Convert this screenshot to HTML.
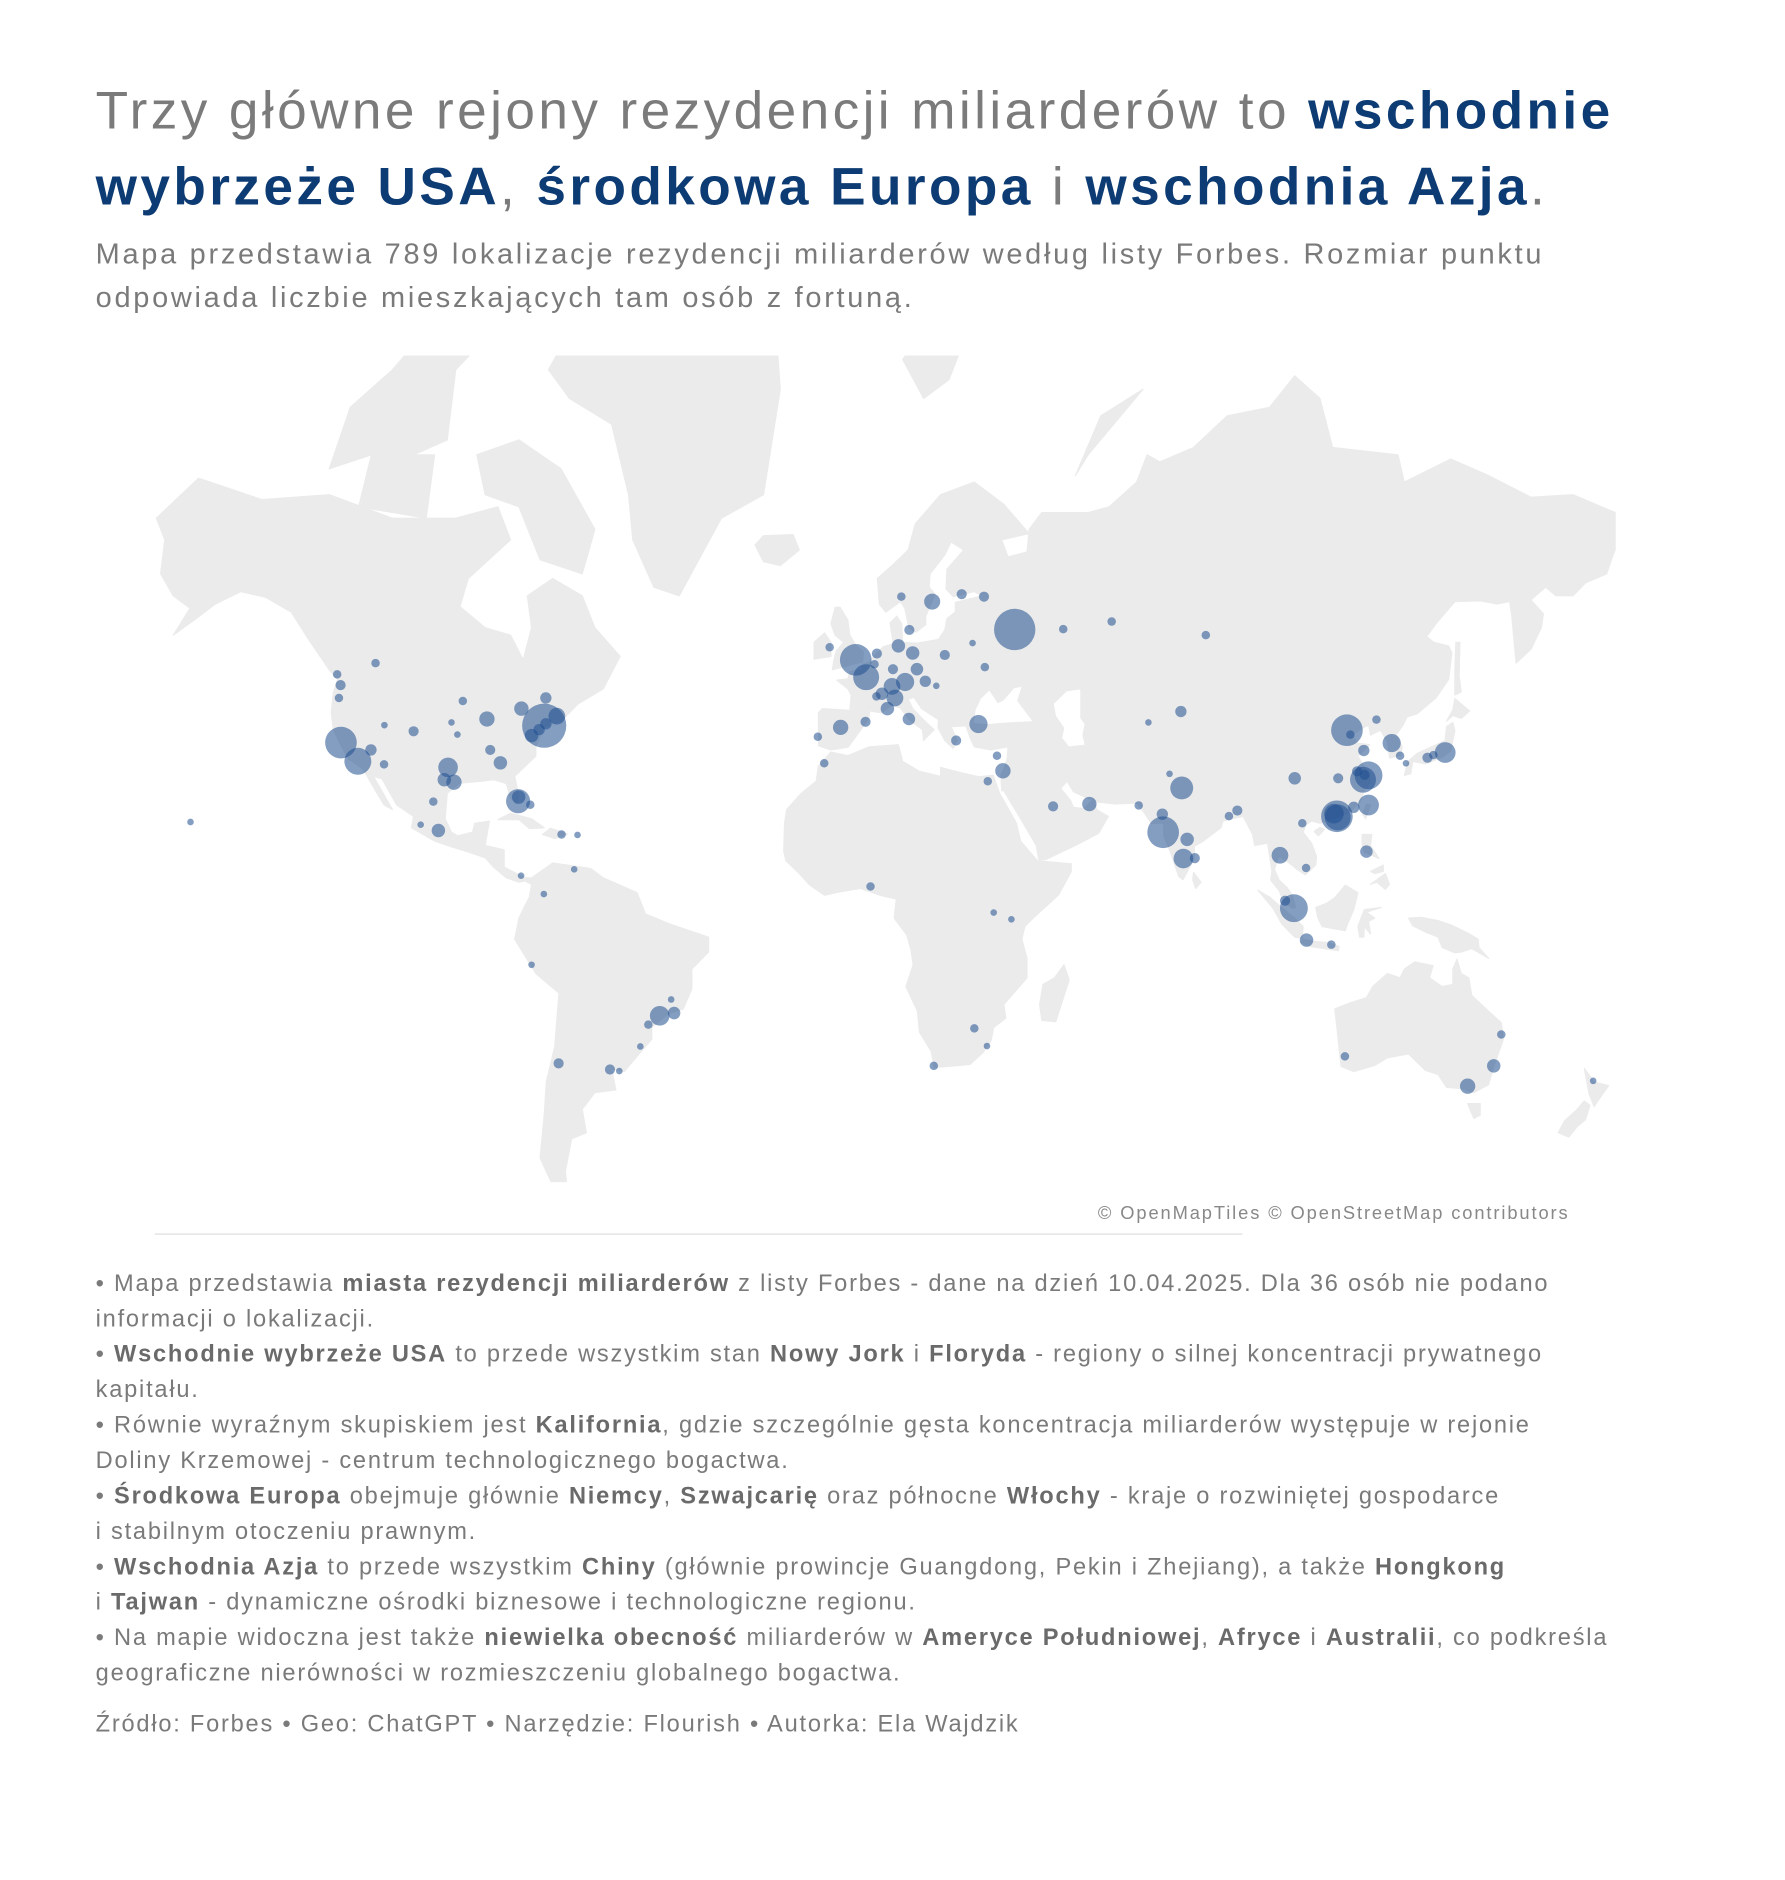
<!DOCTYPE html>
<html><head><meta charset="utf-8">
<style>
html,body{margin:0;padding:0;background:#fff;}
body{width:1785px;height:1850px;overflow:hidden;}
#stage{position:absolute;left:0;top:0;width:1536px;height:1592px;transform:scale(1.181);transform-origin:0 0;font-family:"Liberation Sans",sans-serif;color:#7a7a7a;}
.t{position:absolute;left:81px;white-space:nowrap;}
.title{font-size:45px;color:#7b7b7b;letter-spacing:2.9px;}
.title b{color:#0d3b73;}
.sub{font-size:24.5px;color:#7a7a7a;letter-spacing:2.3px;}
.note{font-size:20px;color:#7a7a7a;letter-spacing:1.5px;}
.note b{color:#6a6a6a;}
</style></head>
<body>
<div id="stage">
<div class="t title" style="top:68px">Trzy główne rejony rezydencji miliarderów to <b>wschodnie</b></div>
<div class="t title" style="top:132px"><b>wybrzeże USA</b>, <b>środkowa Europa</b> i <b>wschodnia Azja</b>.</div>
<div class="t sub" style="top:202px">Mapa przedstawia 789 lokalizacje rezydencji miliarderów według listy Forbes. Rozmiar punktu</div>
<div class="t sub" style="top:239px">odpowiada liczbie mieszkających tam osób z fortuną.</div>

<svg id="map" style="position:absolute;left:0;top:0" width="1536" height="1080">
<defs><clipPath id="clip"><rect x="125" y="301" width="1250" height="700"/></clipPath></defs>
<g id="land" clip-path="url(#clip)"></g>
<g id="bubbles"></g>
<line x1="131" y1="1045" x2="1052" y2="1045" stroke="#e8e8e8" stroke-width="1.5"/>
<text x="1329" y="1032" text-anchor="end" font-size="15.5" letter-spacing="1.6" fill="#888" font-family="Liberation Sans, sans-serif">© OpenMapTiles © OpenStreetMap contributors</text>
</svg>

<div class="t note" style="top:1076px">• Mapa przedstawia <b>miasta rezydencji miliarderów</b> z listy Forbes - dane na dzień 10.04.2025. Dla 36 osób nie podano</div>
<div class="t note" style="top:1106px">informacji o lokalizacji.</div>
<div class="t note" style="top:1136px">• <b>Wschodnie wybrzeże USA</b> to przede wszystkim stan <b>Nowy Jork</b> i <b>Floryda</b> - regiony o silnej koncentracji prywatnego</div>
<div class="t note" style="top:1166px">kapitału.</div>
<div class="t note" style="top:1196px">• Równie wyraźnym skupiskiem jest <b>Kalifornia</b>, gdzie szczególnie gęsta koncentracja miliarderów występuje w rejonie</div>
<div class="t note" style="top:1226px">Doliny Krzemowej - centrum technologicznego bogactwa.</div>
<div class="t note" style="top:1256px">• <b>Środkowa Europa</b> obejmuje głównie <b>Niemcy</b>, <b>Szwajcarię</b> oraz północne <b>Włochy</b> - kraje o rozwiniętej gospodarce</div>
<div class="t note" style="top:1286px">i stabilnym otoczeniu prawnym.</div>
<div class="t note" style="top:1316px">• <b>Wschodnia Azja</b> to przede wszystkim <b>Chiny</b> (głównie prowincje Guangdong, Pekin i Zhejiang), a także <b>Hongkong</b></div>
<div class="t note" style="top:1346px">i <b>Tajwan</b> - dynamiczne ośrodki biznesowe i technologiczne regionu.</div>
<div class="t note" style="top:1376px">• Na mapie widoczna jest także <b>niewielka obecność</b> miliarderów w <b>Ameryce Południowej</b>, <b>Afryce</b> i <b>Australii</b>, co podkreśla</div>
<div class="t note" style="top:1406px">geograficzne nierówności w rozmieszczeniu globalnego bogactwa.</div>
<div class="t note" style="top:1449px">Źródło: Forbes • Geo: ChatGPT • Narzędzie: Flourish • Autorka: Ela Wajdzik</div>
</div>

<script>
const cityNames=["Nowy Jork","San Francisco","Los Angeles","Miami","Chicago","Dallas","Houston","Austin","Boston","Atlanta","Seattle","Las Vegas","Denver","Toronto","Montreal","Nashville","Phoenix","Meksyk","Waszyngton","Filadelfia","Vancouver","Calgary","Palm Beach","Greenwich","Londyn","Paryż","Monachium","Zurych","Mediolan","Berlin","Hamburg","Sztokholm","Moskwa","Stambuł","Madryt","Monako","Oslo","Praga","Wiedeń","Warszawa","Petersburg","Rzym","Tel Awiw","Nikozja","Ateny","Dublin","Lizbona","Amsterdam","Genewa","Kijów","Helsinki","Kair","Dubaj","Rijad","Mumbaj","Delhi","Bengaluru","Hajdarabad","Ćennaj","Ahmadabad","Kalkuta","Pekin","Szanghaj","Hangzhou","Shenzhen","Hongkong","Kanton","Tajpej","Seul","Tokio","Osaka","Singapur","Bangkok","Dżakarta","Manila","Chengdu","Xiamen","Sydney","Melbourne","São Paulo","Rio de Janeiro","Santiago","Buenos Aires","Lagos","Johannesburg","Kapsztad","Ałmaty","Perth","Auckland","Novosibirsk","Jekaterynburg","Nanjing","Suzhou","Wuhan","Kuala Lumpur","Dżakarta-2","Brisbane","Honolulu","Lima","Bogota","Portland","Minneapolis","Salt Lake City","Kansas City","Omaha","Mińsk","Budapeszt","Barcelona","Bruksela","Frankfurt","Kopenhaga","Lyon","Kazań","Taszkent","Karaczi","Lahaur","Dhaka","Ho Chi Minh","Hanoi","Qingdao","Tianjin","Shenyang","Pusan","Nagoja","Fukuoka","Montevideo","Caracas","Nairobi","Kampala","Durban","Casablanca","Belo Horizonte","Curitiba","Porto Alegre","Guadalajara","Monterrey","Panama","Santo Domingo","San Juan","Bahamy","Surabaja"];
const cityLon=[-74,-122.2,-118.2,-80.2,-87.6,-96.8,-95.4,-97.7,-71,-84.4,-122.3,-115.1,-105,-79.4,-73.6,-86.8,-112,-99.1,-77,-75.2,-123.1,-114,-80.05,-73.6,-0.1,2.35,11.6,8.5,9.2,13.4,10,18,37.6,29,-3.7,7.4,10.7,14.4,16.4,21,30.3,12.5,34.8,33.4,23.7,-6.3,-9.1,4.9,6.1,30.5,25,31.2,55.3,46.7,72.8,77.2,77.6,78.5,80.3,72.6,88.4,116.4,121.5,120.2,114,114.2,113.3,121.5,127,139.7,135.5,103.8,100.5,106.8,121,104,118,151.2,145,-46.6,-43.2,-70.6,-58.4,3.4,28,18.4,77,115.9,174.8,82.9,60.6,118.8,120.6,114.3,101.7,112.7,153,-157.9,-77,-74.1,-122.7,-93.3,-111.9,-94.6,-96,27.6,19,2.2,4.35,8.7,12.6,4.8,49.1,69.3,67,74.3,90.4,106.7,105.8,120.4,117.2,123.4,129,136.9,130.4,-56.2,-66.9,36.8,32.6,31,-7.6,-43.9,-49.3,-51.2,-103.3,-100.3,-79.5,-69.9,-66.1,-77.3,112.7];
const cityLat=[40.7,37.6,34,25.8,41.9,32.8,29.8,30.3,42.4,33.7,47.6,36.2,39.7,43.7,45.5,36.2,33.4,19.4,38.9,40,49.3,51,26.7,41.05,51.5,48.85,48.1,47.4,45.5,52.5,53.5,59.3,55.75,41,40.4,43.7,59.9,50.1,48.2,52.2,59.9,41.9,32.1,35.1,38,53.3,38.7,52.4,46.2,50.4,60.2,30,25.2,24.7,19,28.6,13,17.4,13.1,23,22.6,39.9,31.2,30.3,22.55,22.3,23.1,25,37.5,35.7,34.7,1.35,13.75,-6.2,14.6,30.6,24.5,-33.9,-37.8,-23.5,-22.9,-33.4,-34.6,6.5,-26.2,-33.9,43.2,-32,-36.8,55,56.8,32,31.3,30.6,3.1,-7.3,-27.5,21.3,-12,4.7,45.5,45,40.8,39.1,41.3,53.9,47.5,41.4,50.85,50.1,55.7,45.75,55.8,41.3,24.9,31.5,23.8,10.8,21,36.1,39.1,41.8,35.1,35.2,33.6,-34.9,10.5,-1.3,0.3,-29.9,33.6,-19.9,-25.4,-30,20.7,25.7,9,18.5,18.4,25.05,-7.25];
const cityCount=[80,40,28,22,8,14,8,6,10,6,3,4,3,7,4,3,2,6,6,4,2,2,6,4,40,26,12,10,10,6,6,9,70,12,8,6,2,5,4,3,3,5,8,2,3,2,2,3,5,2,3,2,7,3,40,20,14,6,3,4,2,40,30,26,40,26,14,16,12,16,3,30,10,6,5,5,4,6,8,14,5,3,3,2,2,2,4,2,1,2,2,3,3,3,3,2,2,1,1,1,2,2,1,1,1,1,1,3,2,3,3,2,2,1,2,1,3,2,2,4,2,2,2,2,1,1,1,1,1,1,2,1,2,1,1,2,1,2,1,2];

const X0=725,KX=3.57,Y0=773.8,KY=204.5;
function px(lon){return X0+lon*KX;}
function py(lat){const r=lat*Math.PI/180;return Y0-KY*Math.log(Math.tan(Math.PI/4+r/2));}
function rScale(c){return 0.8+Math.sqrt(c)*2.0;}

const landShapes={
"north-america":[[-166,68],[-156,71.3],[-141,69.6],[-125,70],[-110,68],[-95,68],[-85,69],[-82,66],[-92,62],[-94,58.7],[-88,56],[-82,55],[-79,51.5],[-77,56],[-78,60],[-72,62],[-65,60],[-62,56],[-56,52],[-60,47],[-66,44.5],[-70,41.5],[-74,40.5],[-76,37],[-76,35],[-81,31],[-80,27],[-80.5,25.2],[-82,26.5],[-83,29.5],[-86,30.3],[-89,30],[-94,29.6],[-97,27.5],[-97.5,22],[-96,19],[-94.5,18.2],[-91,19],[-90.5,21],[-87,21.5],[-88,16],[-83.5,15],[-83.5,11],[-79.5,9],[-77.5,8],[-80,7.5],[-83,8.5],[-86,11],[-88,13.2],[-92,14.5],[-96,15.7],[-100,17],[-105.5,20],[-105,22.5],[-109,25],[-112.5,30.5],[-114.5,31],[-110,24],[-112,25],[-114,28],[-117,32.5],[-120.5,34.5],[-122.5,37.5],[-124,40],[-124.5,43],[-124,46.5],[-123,48.5],[-125,50],[-130,54.5],[-134,58],[-140,59.8],[-146,60.5],[-152,59],[-157,57],[-162,55],[-158,58.5],[-162,60],[-165,62.5],[-164,66]],
"greenland":[[-73,78],[-60,82],[-35,83.5],[-20,82],[-18,77],[-22,70],[-32,68],[-42,60],[-48,61],[-53,66],[-54,70],[-58,75],[-68,76.5]],
"baffin":[[-90,73],[-80,74],[-70,72],[-62,67],[-65,62.5],[-75,64],[-80,69],[-88,70]],
"arctic-islands":[[-125,72],[-115,73],[-105,73],[-97,74],[-95,78],[-85,80],[-70,83],[-90,82],[-110,78],[-120,76]],
"victoria-island":[[-118,69],[-102,68],[-100,73],[-115,73]],
"cuba":[[-85,21.8],[-82,23.2],[-77,22],[-74,20],[-77.5,19.8],[-80,21.8]],
"hispaniola":[[-74.4,18.5],[-72.5,19.9],[-68.5,18.6],[-71.5,17.6]],
"south-america":[[-80,8.5],[-77,8.5],[-72,12],[-63,10.7],[-60,8.5],[-52,5],[-50,0],[-44,-2.5],[-35,-5.5],[-35,-9],[-39,-13],[-39,-17.5],[-41,-22],[-44.5,-23],[-48.5,-26],[-48.5,-28.5],[-52,-32],[-55,-35],[-58,-34.5],[-57,-38.5],[-62,-39],[-65,-42],[-64,-46],[-67.5,-47],[-69,-52],[-68.5,-55],[-72,-54],[-75,-50],[-74,-43],[-73.5,-37],[-71.5,-30],[-70.5,-18.5],[-76,-14],[-81,-6],[-80,-1],[-78.8,1.5],[-77.5,4],[-77,7]],
"africa":[[-17,21],[-16.5,24],[-13,27.5],[-9.5,30],[-9,33],[-6,35.8],[-2,35.1],[3,36.8],[10,37.2],[11,34],[15,32],[20,31],[20,32.8],[25,31.7],[29,30.9],[32.5,31.2],[34,27.5],[38,21],[39,17],[43,12.5],[51,11.8],[51,10],[48,4.5],[42,-1],[40,-3],[39.3,-6],[40.5,-10.5],[40.5,-15],[35,-21],[35.5,-24],[32.6,-26],[32,-28.8],[30,-31.3],[27,-33.6],[22,-34],[18.5,-34.2],[17.8,-31],[15,-27],[14.5,-22.5],[11.8,-17],[13.5,-12],[13,-8.5],[12,-5],[9,-1],[9.5,3.5],[6,4.3],[1,6],[-4,5.2],[-7.5,4.4],[-11,6.8],[-13.5,9.5],[-16.7,12.5],[-17.2,14.7]],
"madagascar":[[49.3,-12],[50.5,-15.5],[47.3,-24.8],[44,-24.5],[43.5,-21],[44.3,-16.5],[47,-15]],
"eurasia":[[-9,43],[-8.9,37],[-6,36.2],[-2,36.7],[0,38.8],[3,42],[3.2,43.3],[6,43],[8.5,44.3],[10.5,43.8],[12.5,41.8],[15.7,40],[16,38],[18.5,40],[17,41],[13.5,43.6],[12.3,45.3],[13.7,45.6],[15.5,43.7],[19.5,41.8],[19.4,40.3],[21,38],[23,36.5],[24,38],[22.5,40.5],[26,40.7],[27,38.5],[28,36.8],[32,36.2],[36,36.8],[35.8,34.5],[35,32.5],[34.3,31.3],[34.5,28],[35,28],[39,22],[42.7,16],[43.3,12.7],[45,12.8],[52,16],[55,17.5],[57.5,18.8],[59.8,22.5],[57,24],[56.3,26.3],[54,24.2],[51.5,24.5],[50.8,26],[48.5,28.5],[50,30],[51.5,27.8],[54.5,26.6],[57.5,25.6],[61.5,25.2],[66.5,25.4],[68,23.7],[70,21],[72.8,21],[73,18],[74.5,14.5],[76.5,8.8],[77.5,8.1],[80.2,13],[80.2,15.8],[82.3,17],[86.5,20],[87,21.5],[89,22],[91.8,22.5],[94,18.5],[94.5,16],[97.6,16.5],[98.6,10],[98.3,8],[100.3,5.5],[101.3,2.9],[103.5,1.3],[104.2,1.5],[103.4,4.5],[102.2,6.2],[100.3,8],[99.2,10.5],[100.2,13.5],[102,12.5],[104.8,10.3],[106.5,9.2],[109,11.5],[109.2,13.5],[108,16.5],[106,19],[106.7,20.7],[108,21.5],[110,21],[112.5,21.8],[114.5,22.4],[117,23.5],[119.5,25.5],[120.5,28],[122,30],[121,32.2],[119,35],[121.8,37.2],[118.9,37.5],[118,38.5],[117.6,39],[119.5,40],[121.5,40.8],[122,39],[124.3,39.9],[126,37.7],[126.5,34.6],[129.2,35.2],[129.5,36.8],[128,39],[129.7,40.8],[130.7,42.3],[133,42.8],[137.5,45.5],[140.5,48.5],[141.3,52.5],[140.5,53.5],[137,54],[135.3,54.8],[137.5,56.5],[142,59.3],[148,59.4],[152,59],[155,59.3],[155.5,57.5],[156.5,51],[160,53],[162.5,56],[163,57.8],[160,59.5],[163.5,61],[166,60],[170,60],[173,61.5],[178,62.5],[179.5,64.5],[180,65],[180,68.5],[170,70],[160,69.8],[150,71.5],[141,72.7],[130,71],[128.5,73],[113,73.5],[110,76.5],[104,77.7],[98,76],[88,75.5],[80,73.5],[72,72.5],[69,73],[66.5,71],[60,69],[55,68.5],[44,68.5],[41,67],[40.5,64.8],[36,64.3],[34.5,66],[41,66.6],[35,69.2],[28,71],[20,70],[14,67.5],[12.3,65],[8.5,63.4],[5,62],[5.5,59],[7,58],[10.5,59.3],[11.5,58.5],[12.5,56],[14.2,55.4],[16.5,56.4],[16.5,57.5],[18.7,60.2],[17.3,61],[17.5,62.5],[21,64.5],[22.5,65.8],[25.5,65],[21.5,63],[21.3,60.8],[23,59.9],[28,60.5],[29.8,60],[23.5,59.2],[23.5,58],[21.5,57.2],[21,55.7],[19.5,54.4],[14.5,53.9],[11,54],[10.8,56.5],[9.6,57.5],[8,56.6],[8.5,54.9],[8.8,53.8],[6.5,53.4],[4.5,52.3],[3,51.1],[1.6,50.9],[1.5,50],[-1.5,49.7],[-2,48.6],[-4.6,48.4],[-2,47],[-1.2,46],[-1.5,43.4],[-8,43.7]],
"great-britain":[[-5.7,50],[1.5,51.2],[1.7,52.7],[0,53.5],[-1.5,55],[-2,57],[-3.8,58.6],[-5,58.6],[-6,56.5],[-5,55],[-3,54],[-4.7,52.8],[-5.2,51.7]],
"ireland":[[-6,52],[-6,54],[-7.5,55.3],[-10,54],[-10,51.6]],
"iceland":[[-24,65.5],[-22,66.4],[-15,66.5],[-13.5,65],[-18,63.4],[-22,63.8]],
"svalbard":[[11,78.5],[17,80],[27,80],[22,77.5],[16,76.5]],
"novaya-zemlya":[[52,71.5],[58,75.5],[68,77],[55,73]],
"japan":[[130,31.2],[131.5,31.5],[132,34],[135,33.5],[139,34.8],[141,36],[142,39.8],[141.5,41.3],[140,40.5],[139.7,38],[137,37],[133,35.5],[130.9,34]],
"hokkaido":[[140,41.5],[141.5,42.5],[143.5,42],[145.5,43.3],[142,45.4],[141.5,43.5]],
"sakhalin":[[142,46],[143.5,46.5],[143,49],[143.2,54],[142.2,54],[142,50]],
"taiwan":[[120.1,23],[121,25.2],[122,25],[120.8,22]],
"hainan":[[108.6,19.2],[110,20.1],[111,19.6],[109.6,18.2]],
"sri-lanka":[[79.8,8],[80,9.8],[81.8,7.5],[80.5,6]],
"luzon":[[120,18.5],[122.3,18.5],[122,16],[124,13],[120.5,14.5],[120,16]],
"mindanao":[[122,7],[125.5,9.5],[126.5,7],[125.5,5.8],[123.5,7.5]],
"visayas":[[122,10],[125,11.5],[125,10],[123,9.5]],
"borneo":[[109,1.5],[111.5,2.5],[113.5,3.8],[116,6.8],[119,5],[118,1],[116.5,-2.5],[116,-4],[110.5,-3],[109.5,-1]],
"sumatra":[[95.3,5.6],[98,4],[100.3,2],[104,-1],[106,-3],[105.8,-5.8],[104,-5.5],[101,-2.5],[98.7,1.5]],
"java":[[105.3,-6.8],[106,-6],[108.5,-6.5],[112,-6.8],[114.5,-7.7],[114.3,-8.7],[108,-7.8]],
"sulawesi":[[119.4,-5.5],[119,-3],[120.5,1],[124.5,1.5],[121,0.4],[123,-1],[121.5,-1.8],[122,-4.8],[120.5,-3],[120.4,-5.5]],
"new-guinea":[[131,-1],[134,-0.8],[138,-1.6],[141,-2.6],[145,-4.5],[147.5,-6],[147.7,-8],[150,-10.5],[146,-8.2],[143.5,-9],[142,-9.2],[139,-8],[138,-5.5],[135,-4.3],[132,-2.8]],
"australia":[[113.5,-22],[114,-26],[115,-34],[118,-35],[123,-33.8],[126,-32.3],[131,-31.5],[135,-34.8],[138,-35.6],[140,-38],[144,-38.3],[146.5,-39],[150,-37.5],[151.3,-33.8],[153.5,-28.5],[153,-25],[150,-22.5],[146,-19],[145.3,-15],[143.5,-14],[142.5,-10.7],[141.5,-13],[141.5,-16.5],[139,-17],[136,-15],[136.8,-12.2],[132.5,-11.3],[130,-13],[129,-15],[126,-14],[122.5,-17],[121,-19.5],[117,-20.7]],
"tasmania":[[145,-41],[148,-41],[148,-43],[146.5,-43.6]],
"nz-north":[[172.7,-34.4],[175,-37],[178.5,-37.7],[177,-39.3],[175,-41.5],[173.8,-39.2]],
"nz-south":[[172.7,-40.5],[174,-41.3],[173,-43.8],[171,-45],[169,-46.7],[166.5,-46],[168,-44],[171,-42]]
};
const seaShapes={
"black-sea":[[28,41.3],[28.5,43.5],[29.7,45.3],[31.5,46.6],[33.5,44.5],[35,45],[37.5,47],[39,47.2],[38,45],[41.5,41.6],[36,41.4],[31,41.1]],
"caspian-sea":[[47,44.5],[50,46.5],[53,46.8],[53,42],[54,41],[53.5,39],[54,37.3],[50.5,37],[49,38.5],[49.5,40.3],[47.5,42.5]]
};
const NS="http://www.w3.org/2000/svg";
const land=document.getElementById('land');
function addPoly(pts,fill,name){
  const p=document.createElementNS(NS,'polygon');
  p.setAttribute('points',pts.map(q=>px(q[0]).toFixed(1)+','+py(q[1]).toFixed(1)).join(' '));
  p.setAttribute('fill',fill);
  p.setAttribute('stroke',fill);
  p.setAttribute('stroke-width','1');
  p.setAttribute('stroke-linejoin','round');
  
  
  land.appendChild(p);
}
for(const k in landShapes) addPoly(landShapes[k],'#ebebeb',k);
for(const k in seaShapes) addPoly(seaShapes[k],'#ffffff',k);

const bub=document.getElementById('bubbles');
const order=cityCount.map((c,i)=>i).sort((a,b)=>cityCount[b]-cityCount[a]);
for(const i of order){
  const c=document.createElementNS(NS,'circle');
  c.setAttribute('cx',px(cityLon[i]).toFixed(1));
  c.setAttribute('cy',py(cityLat[i]).toFixed(1));
  c.setAttribute('r',rScale(cityCount[i]).toFixed(1));
  c.setAttribute('fill','#1f4f8f');
  c.setAttribute('fill-opacity','0.55');
  
  
  bub.appendChild(c);
}
</script>
</body></html>
